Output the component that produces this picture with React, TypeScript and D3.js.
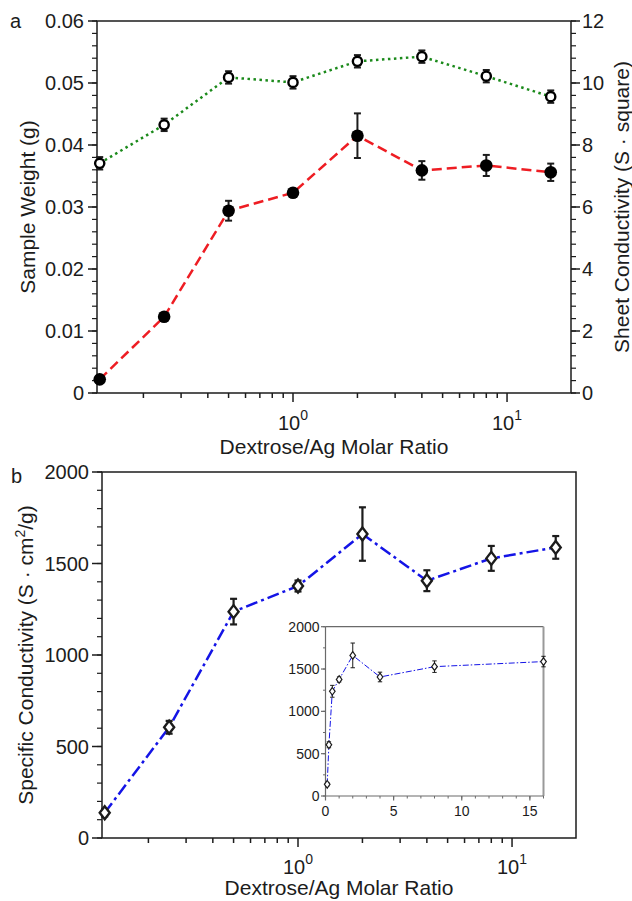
import * as d3 from 'd3';

// Dextrose/Ag molar ratios shared by both panels
const ratios = [0.125, 0.25, 0.5, 1, 2, 4, 8, 16];

// panel a
const sampleWeight = [0.0022, 0.0123, 0.0294, 0.0323, 0.0415, 0.0359, 0.0367, 0.0356];
const sampleWeightErr = [0.0003, 0.0004, 0.0016, 0.0004, 0.0036, 0.0015, 0.0017, 0.0014];
const sheetCond = [7.41, 8.65, 10.18, 10.02, 10.7, 10.85, 10.22, 9.56];
const sheetCondErr = [0.2, 0.2, 0.2, 0.2, 0.2, 0.2, 0.2, 0.2];

// panel b
const specCond = [138, 605, 1237, 1377, 1661, 1406, 1528, 1588];
const specCondErr = [20, 35, 70, 30, 146, 57, 68, 62];

const weightTicks = [0, 0.01, 0.02, 0.03, 0.04, 0.05, 0.06];
const sheetTicks = [0, 2, 4, 6, 8, 10, 12];
const specTicks = [0, 500, 1000, 1500, 2000];
const insetXTicks = [0, 5, 10, 15];

const FONT = '"Liberation Sans", Arial, Helvetica, sans-serif';
const INK = '#1c1c1c';
const RED = '#ee1d23';
const GREEN = '#1b8a1b';
const BLUE = '#1414e6';
const xDomain = [0.1214, 19.9];

function logMinors(domain: number[]) {
  const out: number[] = [];
  [0.1, 1, 10].forEach(dec => {
    for (let k = 2; k <= 9; k++) {
      const v = k * dec;
      if (v > domain[0] && v < domain[1]) out.push(v);
    }
  });
  return out;
}

function linMinors(max: number, step: number) {
  return d3.range(0, max + step / 2, step);
}

function ErrorBar({ cx, y0, y1, cap, w }: any) {
  return (
    <g stroke={INK} strokeWidth={w}>
      <line x1={cx} x2={cx} y1={y0} y2={y1} />
      <line x1={cx - cap} x2={cx + cap} y1={y0} y2={y0} />
      <line x1={cx - cap} x2={cx + cap} y1={y1} y2={y1} />
    </g>
  );
}

function Diamond({ cx, cy, hw, hh, w }: any) {
  return (
    <path
      d={`M${cx},${cy - hh}L${cx + hw},${cy}L${cx},${cy + hh}L${cx - hw},${cy}Z`}
      fill="#fff"
      stroke={INK}
      strokeWidth={w}
    />
  );
}

function LogXAxis({ x, y0, labelDy, titleDy }: any) {
  const minors = logMinors(xDomain);
  return (
    <g>
      {minors.map(v => (
        <line key={v} x1={x(v)} x2={x(v)} y1={y0} y2={y0 + 5} stroke={INK} strokeWidth={1.5} />
      ))}
      {[1, 10].map((v, i) => (
        <g key={v}>
          <line x1={x(v)} x2={x(v)} y1={y0} y2={y0 + 9} stroke={INK} strokeWidth={1.5} />
          <text x={x(v)} y={y0 + labelDy} textAnchor="middle" fontSize={20} fill={INK}>
            <tspan>10</tspan>
            <tspan dy={-10} fontSize={14}>{i}</tspan>
          </text>
        </g>
      ))}
      <text x={(x.range()[0] + x.range()[1]) / 2} y={y0 + titleDy} textAnchor="middle" fontSize={21} fill={INK}>
        Dextrose/Ag Molar Ratio
      </text>
    </g>
  );
}

function PanelA() {
  const L = 97, R = 571, T = 21, B = 393;
  const x = d3.scaleLog().domain(xDomain).range([L, R]);
  const yL = d3.scaleLinear().domain([0, 0.06]).range([B, T]);
  const yR = d3.scaleLinear().domain([0, 12]).range([B, T]);

  const redLine = d3.line<number>().x((_, i) => x(ratios[i])).y(d => yL(d))(sampleWeight);
  const greenLine = d3.line<number>().x((_, i) => x(ratios[i])).y(d => yR(d))(sheetCond);

  return (
    <g>
      <text x={10} y={28} fontSize={20} fill={INK}>a</text>
      <path d={`M${L},${B}V${T}H${R}V${B}Z`} fill="none" stroke={INK} strokeWidth={1.5} />

      {linMinors(0.06, 0.002).map(v => (
        <line key={'lm' + v} x1={L - 5} x2={L} y1={yL(v)} y2={yL(v)} stroke={INK} strokeWidth={1.2} />
      ))}
      {weightTicks.map(v => (
        <g key={'l' + v}>
          <line x1={L - 9} x2={L} y1={yL(v)} y2={yL(v)} stroke={INK} strokeWidth={1.5} />
          <text x={L - 13} y={yL(v) + 7} textAnchor="end" fontSize={20} fill={INK}>
            {v === 0 ? '0' : d3.format('.2f')(v)}
          </text>
        </g>
      ))}

      {linMinors(12, 0.4).map(v => (
        <line key={'rm' + v} x1={R} x2={R + 5} y1={yR(v)} y2={yR(v)} stroke={INK} strokeWidth={1.2} />
      ))}
      {sheetTicks.map(v => (
        <g key={'r' + v}>
          <line x1={R} x2={R + 9} y1={yR(v)} y2={yR(v)} stroke={INK} strokeWidth={1.5} />
          <text x={R + 11} y={yR(v) + 7} textAnchor="start" fontSize={20} fill={INK}>{v}</text>
        </g>
      ))}

      <LogXAxis x={x} y0={B} labelDy={37} titleDy={61} />

      <text transform={`translate(35,${(T + B) / 2}) rotate(-90)`} textAnchor="middle" fontSize={21} fill={INK}>
        Sample Weight (g)
      </text>
      <text transform={`translate(629,${(T + B) / 2}) rotate(-90)`} textAnchor="middle" fontSize={21} fill={INK}>
        Sheet Conductivity (S · square)
      </text>

      <path d={redLine!} fill="none" stroke={RED} strokeWidth={2.5} strokeDasharray="10 5" />
      <path d={greenLine!} fill="none" stroke={GREEN} strokeWidth={2.5} strokeDasharray="2.5 3.5" />

      {ratios.map((r, i) => (
        <g key={'a' + r}>
          <ErrorBar cx={x(r)} y0={yL(sampleWeight[i] + sampleWeightErr[i])} y1={yL(sampleWeight[i] - sampleWeightErr[i])} cap={3.5} w={2} />
          <circle cx={x(r)} cy={yL(sampleWeight[i])} r={6.3} fill="#000" />
          <ErrorBar cx={x(r)} y0={yR(sheetCond[i] + sheetCondErr[i])} y1={yR(sheetCond[i] - sheetCondErr[i])} cap={3.5} w={2} />
          <circle cx={x(r)} cy={yR(sheetCond[i])} r={4.6} fill="#fff" stroke="#000" strokeWidth={2.4} />
        </g>
      ))}
    </g>
  );
}

function Inset() {
  const L = 325.5, R = 543.5, T = 626.7, B = 796;
  const x = d3.scaleLinear().domain([0, 16]).range([L, R]);
  const y = d3.scaleLinear().domain([0, 2000]).range([B, T]);
  const line = d3.line<number>().x((_, i) => x(ratios[i])).y(d => y(d))(specCond);
  const GRAY = '#6a6a6a';

  return (
    <g>
      <rect x={L} y={T} width={R - L} height={B - T} fill="#fff" />
      <line x1={L} x2={R} y1={T} y2={T} stroke={GRAY} strokeWidth={1.2} />
      <line x1={R} x2={R} y1={T} y2={B} stroke="#999" strokeWidth={2} />
      <line x1={L} x2={L} y1={T} y2={B} stroke={GRAY} strokeWidth={1.2} />
      <line x1={L} x2={R} y1={B} y2={B} stroke={GRAY} strokeWidth={1.2} />

      {linMinors(2000, 250).map(v => (
        <line key={'im' + v} x1={L - 2.5} x2={L} y1={y(v)} y2={y(v)} stroke={GRAY} strokeWidth={1} />
      ))}
      {specTicks.map(v => (
        <g key={'iy' + v}>
          <line x1={L - 4.5} x2={L} y1={y(v)} y2={y(v)} stroke={GRAY} strokeWidth={1.2} />
          <text x={L - 6} y={y(v) + 5} textAnchor="end" fontSize={14} fill={INK}>{v}</text>
        </g>
      ))}
      {linMinors(16, 1).map(v => (
        <line key={'ixm' + v} x1={x(v)} x2={x(v)} y1={B} y2={B + 2.5} stroke={GRAY} strokeWidth={1} />
      ))}
      {insetXTicks.map(v => (
        <g key={'ix' + v}>
          <line x1={x(v)} x2={x(v)} y1={B} y2={B + 4.5} stroke={GRAY} strokeWidth={1.2} />
          <text x={x(v)} y={B + 20} textAnchor="middle" fontSize={14} fill={INK}>{v}</text>
        </g>
      ))}

      <path d={line!} fill="none" stroke={BLUE} strokeWidth={1} strokeDasharray="6 2 1.5 2" />
      {ratios.map((r, i) => (
        <g key={'in' + r}>
          <ErrorBar cx={x(r)} y0={y(specCond[i] + specCondErr[i])} y1={y(specCond[i] - specCondErr[i])} cap={2.2} w={1} />
          <Diamond cx={x(r)} cy={y(specCond[i])} hw={2.8} hh={3.8} w={1.2} />
        </g>
      ))}
    </g>
  );
}

function PanelB() {
  const L = 102, R = 576, T = 472, B = 838;
  const x = d3.scaleLog().domain(xDomain).range([L, R]);
  const y = d3.scaleLinear().domain([0, 2000]).range([B, T]);
  const line = d3.line<number>().x((_, i) => x(ratios[i])).y(d => y(d))(specCond);

  return (
    <g>
      <text x={11} y={483} fontSize={20} fill={INK}>b</text>
      <path d={`M${L},${B}V${T}H${R}V${B}Z`} fill="none" stroke={INK} strokeWidth={1.5} />

      {linMinors(2000, 100).map(v => (
        <line key={'bm' + v} x1={L - 5} x2={L} y1={y(v)} y2={y(v)} stroke={INK} strokeWidth={1.2} />
      ))}
      {specTicks.map(v => (
        <g key={'b' + v}>
          <line x1={L - 10} x2={L} y1={y(v)} y2={y(v)} stroke={INK} strokeWidth={1.5} />
          <text x={L - 13} y={y(v) + 7} textAnchor="end" fontSize={20} fill={INK}>{v}</text>
        </g>
      ))}

      <LogXAxis x={x} y0={B} labelDy={36} titleDy={57} />

      <text transform={`translate(33,${(T + B) / 2}) rotate(-90)`} textAnchor="middle" fontSize={21} fill={INK}>
        <tspan>Specific Conductivity (S · cm</tspan>
        <tspan dy={-8} fontSize={14}>2</tspan>
        <tspan dy={8}>/g)</tspan>
      </text>

      <path d={line!} fill="none" stroke={BLUE} strokeWidth={2.5} strokeDasharray="12 4 3 4" />
      {ratios.map((r, i) => (
        <g key={'bp' + r}>
          <ErrorBar cx={x(r)} y0={y(specCond[i] + specCondErr[i])} y1={y(specCond[i] - specCondErr[i])} cap={3.5} w={2.2} />
          <Diamond cx={x(r)} cy={y(specCond[i])} hw={5} hh={6.5} w={2.4} />
        </g>
      ))}

      <Inset />
    </g>
  );
}

export default function App() {
  return (
    <svg
      width={632}
      height={901}
      style={{ position: 'absolute', left: 0, top: 0, background: '#fff' }}
      fontFamily={FONT}
    >
      <rect width={632} height={901} fill="#fff" />
      <PanelA />
      <PanelB />
    </svg>
  );
}
